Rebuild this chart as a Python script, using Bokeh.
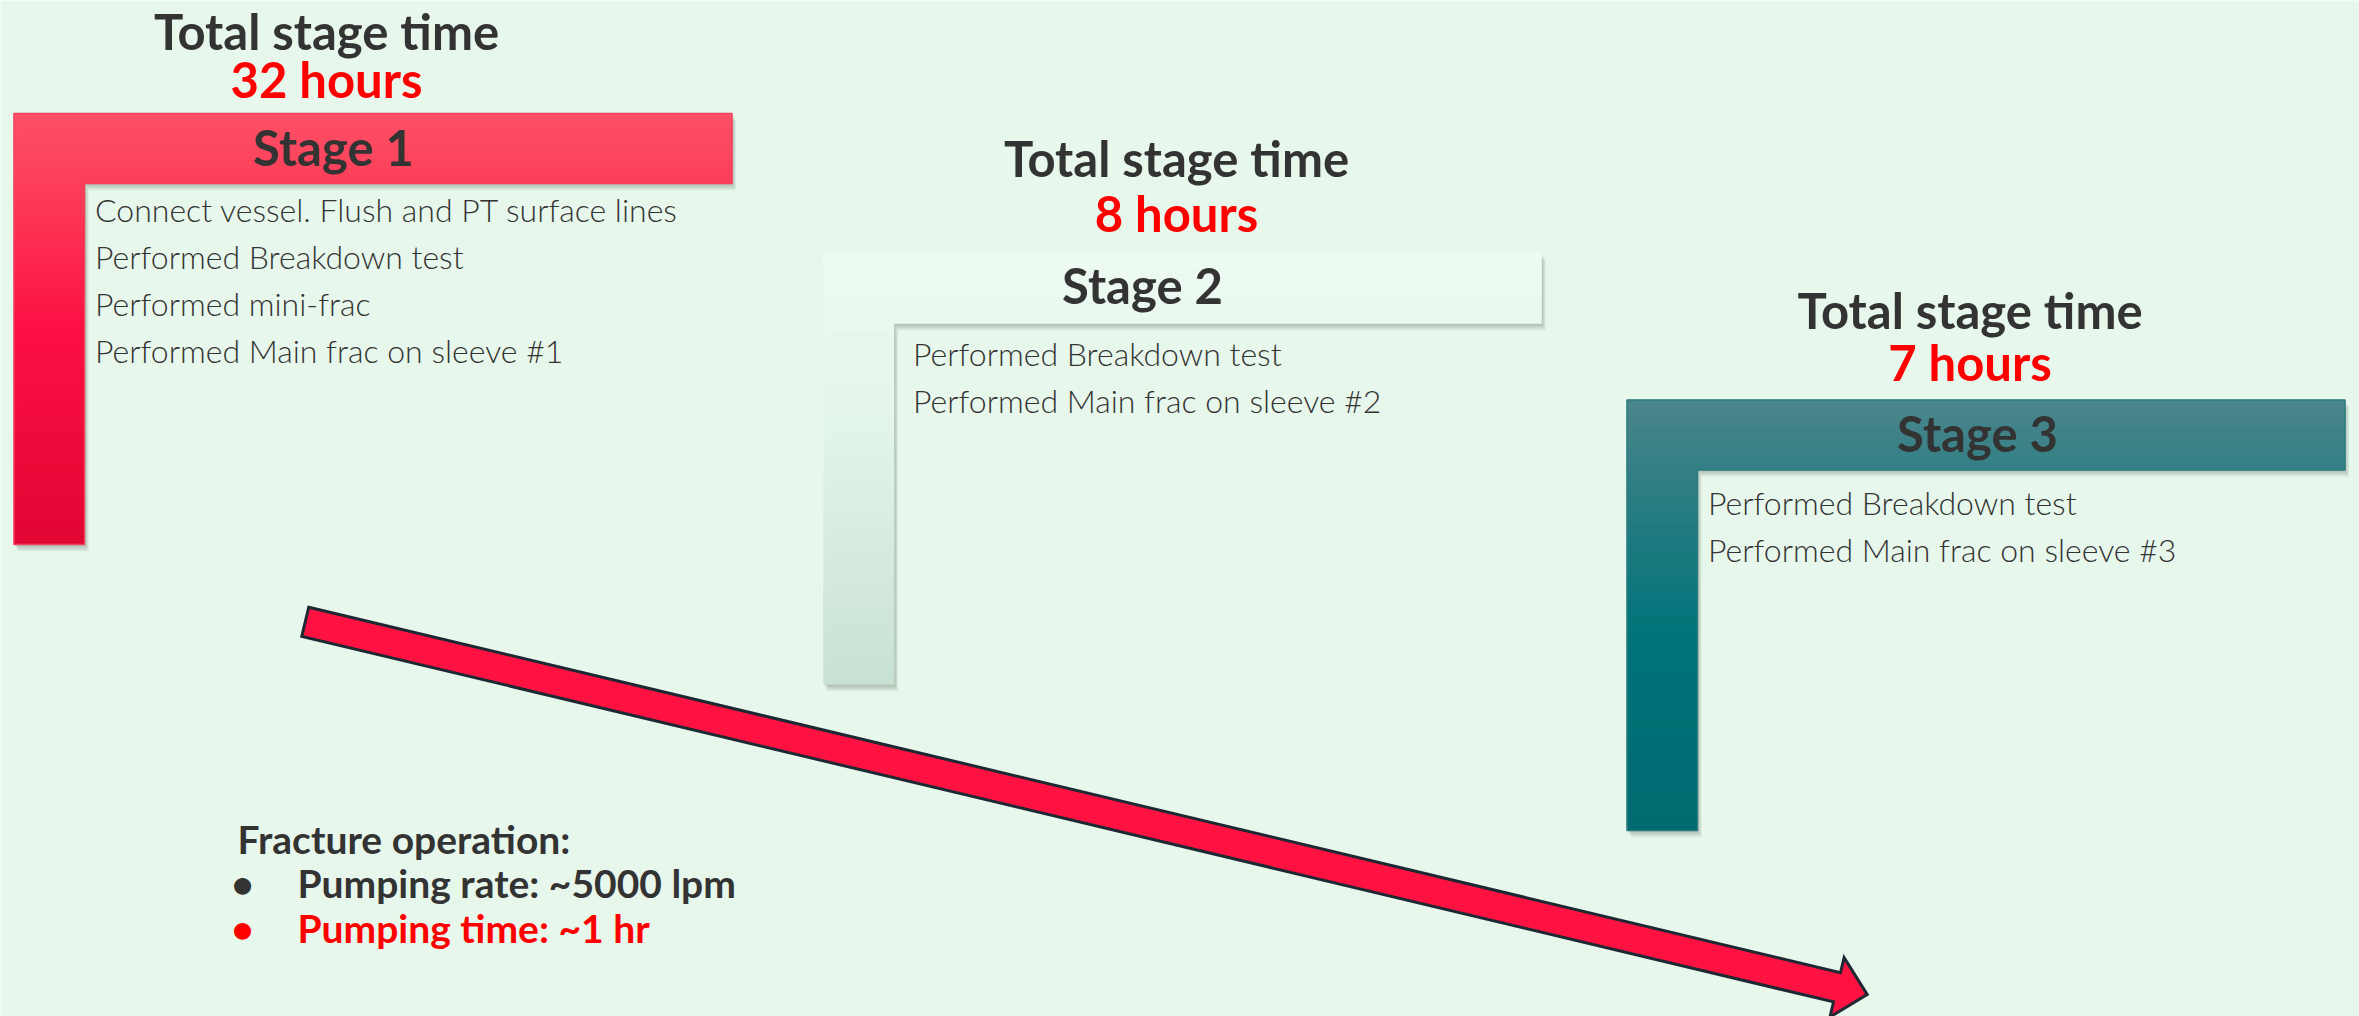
import numpy as np
from bokeh.plotting import figure
from bokeh.models import Range1d
from bokeh.core.properties import value
from bokeh.embed import file_html
from bokeh.resources import INLINE

# ---- content -------------------------------------------------------------
stage_names = ["Stage 1", "Stage 2", "Stage 3"]
stage_hours = [32, 8, 7]
stage_steps = [
    ["Connect vessel. Flush and PT surface lines",
     "Performed Breakdown test",
     "Performed mini-frac",
     "Performed Main frac on sleeve #1"],
    ["Performed Breakdown test",
     "Performed Main frac on sleeve #2"],
    ["Performed Breakdown test",
     "Performed Main frac on sleeve #3"],
]
frac_heading = "Fracture operation:"
frac_notes = ["Pumping rate: ~5000 lpm", "Pumping time: ~1 hr"]

# ---- layout (page pixels, y grows downward) --------------------------------
W, H = 2359, 1016
BG = "#e7f7ec"
stage_left = [13.5, 823, 1626.5]
stage_top = [113, 253, 399.5]
stage_bottom = [544, 684, 830]
BAR_W, BAR_H, POST_W = 718, 70, 70.5
title_cx = [326, 1176, 1969.5]
title_base = [49, 176, 328]
hours_base = [97, 231, 380]
label_cx = [333, 1142, 1977]
label_base = [165, 303, 451]
step_x = [94.5, 912.5, 1707.5]
step_base = [221, 365, 514]
STEP_GAP = 47

stage_grad = [
    [(0.0, "#ff4d63"), (0.16, "#ff3b57"), (0.5, "#ff0a40"), (1.0, "#e3002f")],
    [(0.0, "#effcf4"), (0.4, "#e5f6eb"), (1.0, "#c8e2d3")],
    [(0.0, "#4b868b"), (0.2, "#2f7e84"), (0.55, "#00747a"), (1.0, "#006b72")],
]
stage_edge = ["#f2415b", None, "#2b7d83"]

DARK = "#333333"
RED = "#ff0000"
FONT = value("Lato")
TITLE_PX = 49
STEP_PX = 32
NOTE_PX = 39


def lift(ys, px):
    # place the glyph baseline on the given y (text box sits a bit low)
    return [y - 0.37 * px for y in ys]


def hex_rgb(h):
    h = h.lstrip("#")
    return np.array([int(h[i:i + 2], 16) for i in (0, 2, 4)], dtype=float)


def grad_color(stops, t):
    for (t0, c0), (t1, c1) in zip(stops[:-1], stops[1:]):
        if t <= t1:
            f = 0 if t1 == t0 else (t - t0) / (t1 - t0)
            c = hex_rgb(c0) * (1 - f) + hex_rgb(c1) * f
            return "#%02x%02x%02x" % tuple(int(round(v)) for v in c)
    return stops[-1][1]


def l_outline(x0, y0, y1):
    return ([x0, x0 + BAR_W, x0 + BAR_W, x0 + POST_W, x0 + POST_W, x0],
            [y0, y0, y0 + BAR_H, y0 + BAR_H, y1, y1])


p = figure(width=W, height=H, x_range=Range1d(0, W), y_range=Range1d(H, 0),
           output_backend="svg", toolbar_location=None, min_border=0,
           x_axis_type=None, y_axis_type=None,
           background_fill_color=BG, border_fill_color=BG,
           outline_line_color=None)
p.grid.visible = False

# ---- L-shaped stage frames --------------------------------------------------
for i in range(3):
    x0, y0, y1 = stage_left[i], stage_top[i], stage_bottom[i]
    xs, ys = l_outline(x0, y0, y1)
    # soft drop shadow
    for k in range(1, 8):
        p.patch([x + k * 0.6 for x in xs], [y + k for y in ys],
                fill_color="#3c4a44", fill_alpha=0.05, line_color=None)
    # vertical gradient built from thin bands
    step = 2
    tops = np.arange(y0, y1, step)
    lefts, rights, bots, cols = [], [], [], []
    for t in tops:
        b = min(t + step, y1)
        in_bar = (t < y0 + BAR_H)
        if in_bar and b > y0 + BAR_H:
            b = y0 + BAR_H
        lefts.append(x0)
        rights.append(x0 + (BAR_W if in_bar else POST_W))
        bots.append(b)
        cols.append(grad_color(stage_grad[i], (t - y0) / (y1 - y0)))
    p.quad(left=lefts, right=rights, top=list(tops), bottom=bots,
           fill_color=cols, line_color=cols, line_width=0.5)
    if stage_edge[i]:
        p.patch(xs, ys, fill_color=None, line_color=stage_edge[i], line_width=1.5)

# ---- titles -----------------------------------------------------------------
p.text(x=title_cx, y=lift(title_base, TITLE_PX), text=["Total stage time"] * 3,
       text_font=FONT, text_font_style="bold", text_font_size=f"{TITLE_PX}px",
       text_color=DARK, text_align="center", text_baseline="alphabetic")
p.text(x=title_cx, y=lift(hours_base, TITLE_PX),
       text=[f"{h} hours" for h in stage_hours],
       text_font=FONT, text_font_style="bold", text_font_size=f"{TITLE_PX}px",
       text_color=RED, text_align="center", text_baseline="alphabetic")
p.text(x=label_cx, y=lift(label_base, TITLE_PX), text=stage_names,
       text_font=FONT, text_font_style="bold", text_font_size=f"{TITLE_PX}px",
       text_color=DARK, text_align="center", text_baseline="alphabetic")

sx, sy, st = [], [], []
for i, steps in enumerate(stage_steps):
    for j, s in enumerate(steps):
        sx.append(step_x[i])
        sy.append(step_base[i] + j * STEP_GAP)
        st.append(s)
p.text(x=sx, y=lift(sy, STEP_PX), text=st, text_font=value("Lato Light, Lato"),
       text_font_size=f"{STEP_PX}px",
       text_color=DARK, text_align="left", text_baseline="alphabetic")

# ---- timeline arrow ---------------------------------------------------------
a_start = np.array([304.75, 621.3])
a_tip = np.array([1866.7, 994.0])
SHAFT_HALF, HEAD_LEN, HEAD_HALF = 15.0, 31.0, 30.5
u = (a_tip - a_start) / np.linalg.norm(a_tip - a_start)
n = np.array([-u[1], u[0]])
neck = a_tip - u * HEAD_LEN
pts = [a_start - n * SHAFT_HALF, neck - n * SHAFT_HALF, neck - n * HEAD_HALF,
       a_tip, neck + n * HEAD_HALF, neck + n * SHAFT_HALF, a_start + n * SHAFT_HALF]
p.patch([q[0] for q in pts], [q[1] for q in pts], fill_color="#ff1241",
        line_color="#1d2833", line_width=3, line_join="miter")

# ---- fracture operation notes -----------------------------------------------
p.text(x=[237], y=lift([853], NOTE_PX), text=[frac_heading], text_font=FONT,
       text_font_style="bold", text_font_size=f"{NOTE_PX}px", text_color=DARK,
       text_baseline="alphabetic")
note_colors = [DARK, RED]
note_y = lift([897, 942], NOTE_PX)
p.text(x=[242] * 2, y=note_y, text=["•"] * 2, text_font=FONT,
       text_font_style="bold", text_font_size=f"{NOTE_PX}px",
       text_color=note_colors, text_align="center", text_baseline="alphabetic")
p.text(x=[297] * 2, y=note_y, text=frac_notes, text_font=FONT,
       text_font_style="bold", text_font_size=f"{NOTE_PX}px",
       text_color=note_colors, text_baseline="alphabetic")

open("out.html", "w").write(file_html(p, INLINE))
